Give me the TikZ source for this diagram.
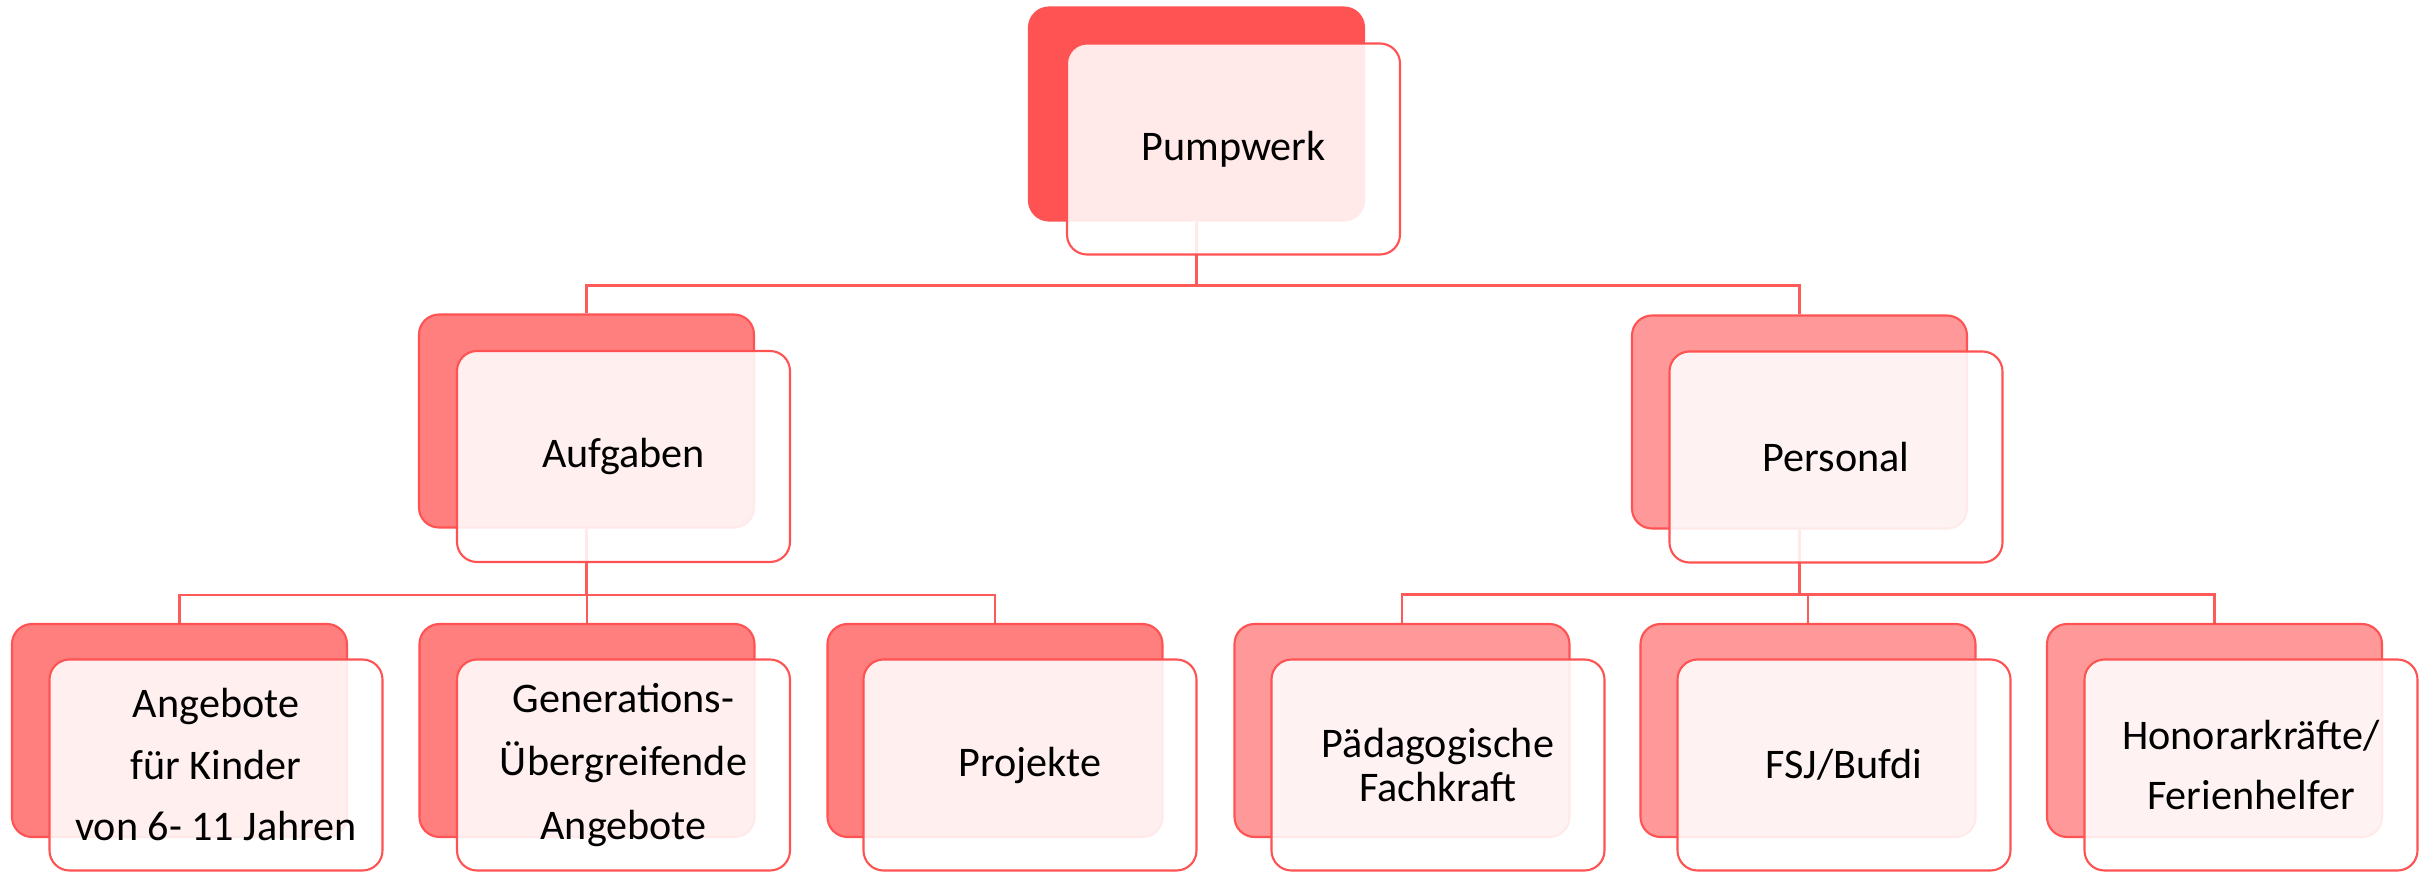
\documentclass[tikz,border=0pt]{standalone}
\usepackage{fontspec}
\setmainfont{Carlito}
\definecolor{pwred}{HTML}{FF5252}
\definecolor{pwmid}{HTML}{FF7F7F}
\definecolor{pwlight}{HTML}{FF9999}
\definecolor{pwline}{HTML}{FF5A5A}
\begin{document}
\begin{tikzpicture}[
  bgbox/.style={draw=pwred, line width=0.6pt, rounded corners=0.2cm, minimum width=3.35cm, minimum height=2.13cm, inner sep=0pt},
  topbg/.style={bgbox, fill=pwred},
  midbg/.style={bgbox, fill=pwmid},
  lightbg/.style={bgbox, fill=pwlight},
  card/.style={draw=pwred, line width=0.6pt, rounded corners=0.2cm, fill=white, fill opacity=0.88, text opacity=1, minimum width=3.33cm, minimum height=2.11cm, inner sep=0pt, align=center, font=\fontsize{12}{17.5}\selectfont},
  conn/.style={draw=pwline, line width=0.6pt}
]
\useasboundingbox (0,0) rectangle (24.32,-8.72);

\node[topbg] (pumpwerk-bg) at (11.965,-1.14) {};

\node[midbg] (aufgaben-bg) at (5.865,-4.21) {};
\node[lightbg] (personal-bg) at (17.995,-4.22) {};

\node[midbg] (angebote-bg) at (1.795,-7.305) {};
\node[midbg] (generationen-bg) at (5.87,-7.305) {};
\node[midbg] (projekte-bg) at (9.95,-7.305) {};
\node[lightbg] (fachkraft-bg) at (14.02,-7.305) {};
\node[lightbg] (fsj-bg) at (18.08,-7.305) {};
\node[lightbg] (honorar-bg) at (22.145,-7.305) {};

\draw[conn] (pumpwerk-bg.south) -- ++(0,-0.64) -| (aufgaben-bg.north);
\draw[conn] (pumpwerk-bg.south) -- ++(0,-0.64) -| (personal-bg.north);

\draw[conn] (aufgaben-bg.south) -- ++(0,-0.66) -| (angebote-bg.north);
\draw[conn] (aufgaben-bg.south) -- ++(0,-0.66) -| (generationen-bg.north);
\draw[conn] (aufgaben-bg.south) -- ++(0,-0.66) -| (projekte-bg.north);

\draw[conn] (personal-bg.south) -- ++(0,-0.65) -| (fachkraft-bg.north);
\draw[conn] (personal-bg.south) -- ++(0,-0.65) -| (fsj-bg.north);
\draw[conn] (personal-bg.south) -- ++(0,-0.65) -| (honorar-bg.north);

\node[card] (pumpwerk) at (12.335,-1.49) {Pumpwerk};

\node[card] (aufgaben) at (6.235,-4.565) {Aufgaben};
\node[card] (personal) at (18.36,-4.57) {Personal};

\node[card] (angebote) at (2.16,-7.65) {Angebote\\für Kinder\\von 6- 11 Jahren};
\node[card, font=\fontsize{12}{18}\selectfont] (generationen) at (6.235,-7.65) {Generations-\\Übergreifende\\Angebote};
\node[card] (projekte) at (10.3,-7.65) {Projekte};
\node[card, font=\fontsize{12}{12.6}\selectfont] (fachkraft) at (14.38,-7.65) {Pädagogische\\Fachkraft};
\node[card] (fsj) at (18.44,-7.65) {FSJ/Bufdi};
\node[card, font=\fontsize{12}{17}\selectfont] (honorar) at (22.51,-7.65) {Honorarkräfte/\\Ferienhelfer};
\end{tikzpicture}
\end{document}
